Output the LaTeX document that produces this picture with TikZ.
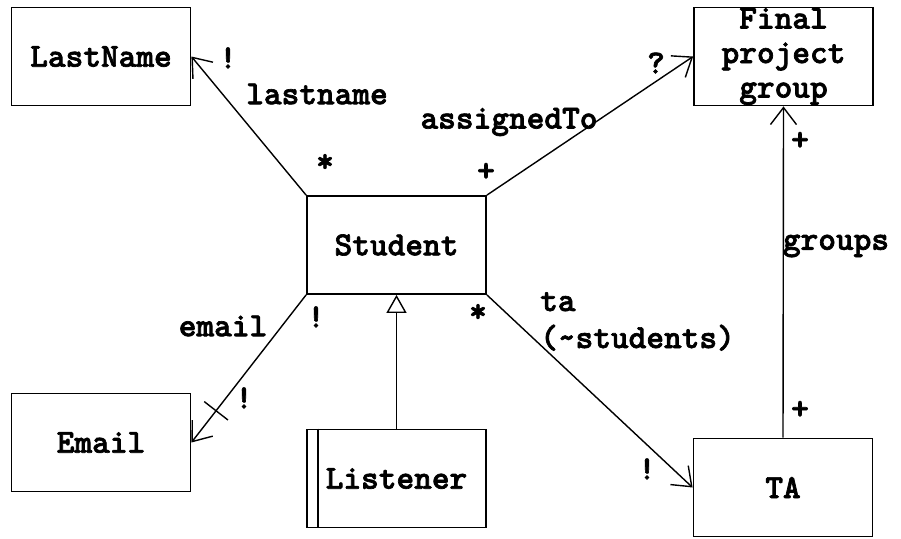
\documentclass[tikz,border=0pt]{standalone}
\usepackage{fontspec}
\newfontfamily\diagfont{lmmonolt10-bold.otf}[FakeBold=2]
\usetikzlibrary{arrows.meta,calc}
\begin{document}
\begin{tikzpicture}[x=1pt,y=-1pt,
  every node/.style={font=\diagfont\fontsize{33.7}{34.5}\selectfont, inner sep=0pt},
  cls/.style={draw, line width=1.8pt, minimum width=179pt, minimum height=98pt, align=center},
  assoc/.style={line width=1.4pt, -{Straight Barb[length=17pt,width=26pt,line width=1.4pt]}},
  isa/.style={line width=1.4pt, -{Triangle[open,length=18pt,width=20pt,line width=1.4pt]}},
  lbl/.style={anchor=center}]
\useasboundingbox (0,0) rectangle (901,538);
\fill[white] (0,0) rectangle (901,538);

% classes
\node[cls] (ln) at (101,56.5) {LastName};
\node[cls] (fp) at (783.5,56.5) {Final\\project\\group};
\node[cls] (st) at (396.5,245) {Student};
\node[cls] (em) at (101,442.5) {Email};
\node[cls] (ls) at (396.5,478.5) {Listener};
\node[cls] (ta) at (783,487.5) {TA};
\draw[line width=1.8pt] ($(ls.north west)+(12,0)$) -- ($(ls.south west)+(12,0)$);

% relations
\draw[assoc] (st.north west) -- (ln.east);
\draw[assoc] (st.north east) -- (fp.west);
\draw[assoc] (st.south west) -- (em.east) coordinate[pos=0.785] (tk);
\draw[line width=1.4pt] ($(tk)!15pt!90:(st.south west)$) -- ($(tk)!15pt!-90:(st.south west)$);
\draw[assoc] (st.south east) -- (ta.west);
\draw[assoc] (ta.north) -- (fp.south);
\draw[isa] (ls.north) -- (st.south);

% multiplicities and names
\node[lbl] (m1) at (228,58) {!};
\node[lbl] (n1) at (317,94) {lastname};
\node[lbl] (m2) at (325,163) {*};
\node[lbl] (n2) at (509,122) {assignedTo};
\node[lbl] (m3) at (486,172) {+};
\node[lbl] (m4) at (656,63) {?};
\node[lbl] (m5) at (800,141) {+};
\node[lbl] (n3) at (836,246) {groups};
\node[lbl] (m6) at (800,410) {+};
\node[anchor=base west] (n4) at (540,311) {ta};
\node[anchor=base west] (n5) at (540,348) {(\char`\~students)};
\node[lbl] (m7) at (478,313) {*};
\node[lbl] (m8) at (647,469) {!};
\node[lbl] (n6) at (223,326) {email};
\node[lbl] (m9) at (316,317) {!};
\node[lbl] (m10) at (244,398) {!};
\end{tikzpicture}
\end{document}
